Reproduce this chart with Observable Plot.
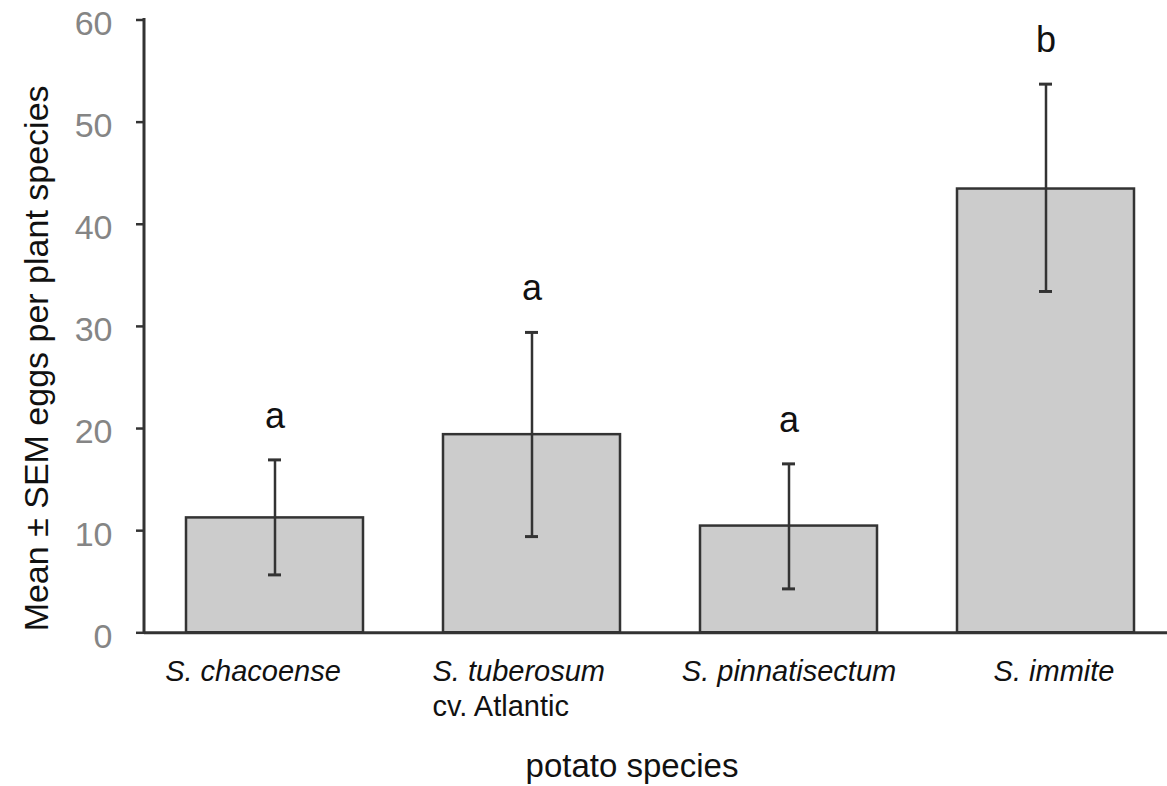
<!DOCTYPE html>
<html><head><meta charset="utf-8">
<script src="https://cdn.jsdelivr.net/npm/d3@7"></script>
<script src="https://cdn.jsdelivr.net/npm/@observablehq/plot@0.6"></script>
<style>html,body{margin:0;padding:0;background:#fff;overflow:hidden} svg{display:block}</style>
</head><body><div id="chart"></div>
<script>
const species = ["S. chacoense", "S. tuberosum", "S. pinnatisectum", "S. immite"];
const cultivar = ["", "cv. Atlantic", "", ""];
const means = [11.25, 19.4, 10.45, 43.45];
const semLow = [5.67, 9.42, 4.3, 33.42];
const semHigh = [16.93, 29.41, 16.54, 53.72];
const letters = ["a", "a", "a", "b"];
const yTicks = [0, 10, 20, 30, 40, 50, 60];
const xTitle = "potato species";
const yTitle = "Mean ± SEM eggs per plant species";

const data = species.map((s, i) => ({species: s, cv: cultivar[i], mean: means[i], lo: semLow[i], hi: semHigh[i], letter: letters[i]}));

// label placement (styling only)
const nameAnchor = ["middle", "start", "middle", "middle"];
const nameDx = [-22, -99.5, 0, 8];

const ink = "#333";
const nameMarks = data.map((d, i) => Plot.text([d], {
  x: "species", text: "species", frameAnchor: "bottom", lineAnchor: "bottom",
  textAnchor: nameAnchor[i], dx: nameDx[i], dy: 47.7, fontSize: 29, fontStyle: "italic", fill: "#111"
}));
const cvMarks = data.map((d, i) => Plot.text([d], {
  x: "species", text: "cv", frameAnchor: "bottom", lineAnchor: "bottom",
  textAnchor: nameAnchor[i], dx: nameDx[i], dy: 82.7, fontSize: 29, fill: "#111"
}));

const yAxisLine = (index, scales, values, dims) => {
  const y = scales.y;
  return d3.create("svg:line")
    .attr("x1", dims.marginLeft).attr("x2", dims.marginLeft)
    .attr("y1", y(yTicks[yTicks.length - 1]) - 1.5).attr("y2", y(0) + 1.5)
    .attr("stroke", ink).attr("stroke-width", 3).node();
};

const chart = Plot.plot({
  width: 1167, height: 786,
  marginLeft: 144, marginRight: 0, marginTop: 19.5, marginBottom: 153.7,
  style: {fontFamily: "'Liberation Sans', Arial, Helvetica, sans-serif", background: "#fff", overflow: "visible"},
  x: {domain: species, range: [145, 1176], paddingInner: 0.31, paddingOuter: 0.155, align: 0.5, axis: null},
  y: {domain: [0, 60], axis: null},
  marks: [
    Plot.barY(data, {x: "species", y: "mean", fill: "#cccccc", stroke: ink, strokeWidth: 2.5}),
    Plot.ruleX(data, {x: "species", y1: "lo", y2: "hi", stroke: ink, strokeWidth: 2.5}),
    Plot.tickY(data, {x: "species", y: "lo", insetLeft: 82, insetRight: 82, stroke: ink, strokeWidth: 3}),
    Plot.tickY(data, {x: "species", y: "hi", insetLeft: 82, insetRight: 82, stroke: ink, strokeWidth: 3}),
    Plot.text(data, {x: "species", y: "hi", text: "letter", lineAnchor: "bottom", dy: -32, fontSize: 36, fill: "#111"}),
    Plot.axisY({ticks: yTicks, tickSize: 8, tickFormat: () => "", label: null, stroke: ink, strokeWidth: 2.5}),
    Plot.text(yTicks, {y: d => d, text: d => String(d), frameAnchor: "left", textAnchor: "end", dx: -32, dy: 4, fontSize: 34, fill: "#858585"}),
    Plot.ruleY([0], {stroke: ink, strokeWidth: 3}),
    yAxisLine,
    ...nameMarks,
    ...cvMarks,
    Plot.text([yTitle], {text: d => d, frameAnchor: "left", textAnchor: "middle", rotate: -90, lineAnchor: "bottom", dx: -97, dy: 32, fontSize: 34, fill: "#111"}),
    Plot.text([xTitle], {text: d => d, frameAnchor: "bottom", textAnchor: "middle", lineAnchor: "bottom", dx: -24, dy: 144.4, fontSize: 33, fill: "#111"})
  ]
});
document.getElementById("chart").appendChild(chart);
</script>
</body></html>
